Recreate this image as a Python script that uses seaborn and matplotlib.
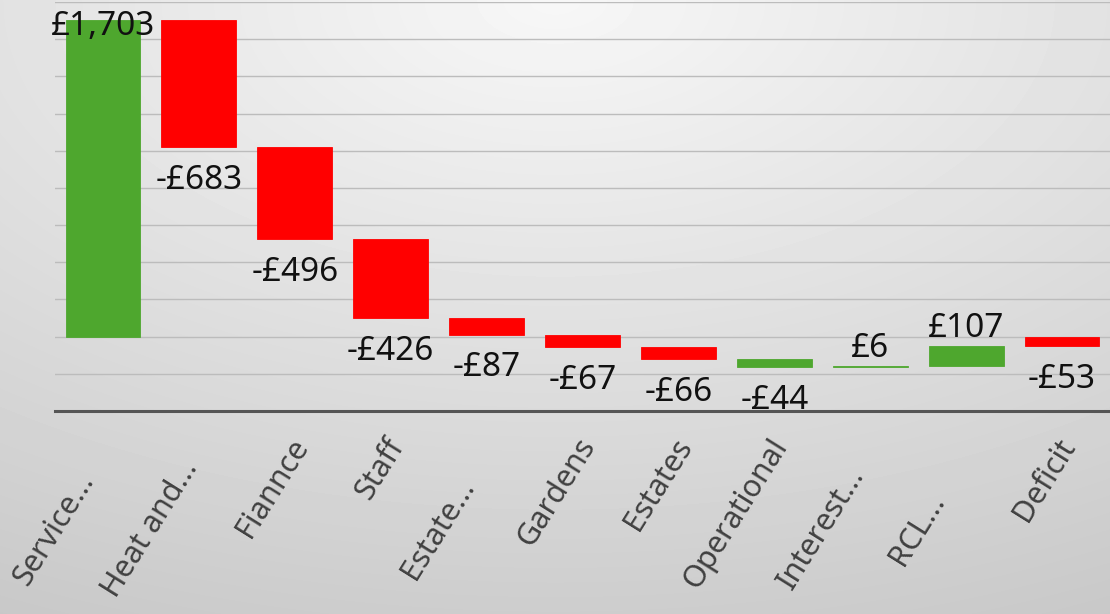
import numpy as np
import pandas as pd
import matplotlib.pyplot as plt
import matplotlib.transforms as mtransforms
import seaborn as sns

# --- data ---
categories = ['Service...', 'Heat and...', 'Fiannce', 'Staff', 'Estate...', 'Gardens',
              'Estates', 'Operational', 'Interest...', 'RCL...', 'Deficit']
changes = [1703, -683, -496, -426, -87, -67, -66, -44, 6, 107, -53]
is_total = [False] * 10 + [True]
value_labels = ['£1,703', '-£683', '-£496', '-£426', '-£87', '-£67', '-£66',
                '-£44', '£6', '£107', '-£53']
bar_colours = ['#4ea72e', '#ff0000', '#ff0000', '#ff0000', '#ff0000', '#ff0000',
               '#ff0000', '#4ea72e', '#4ea72e', '#4ea72e', '#ff0000']

plt.rcParams['font.family'] = ['Noto Sans', 'DejaVu Sans']

# waterfall: each step starts where the running total ended, totals start at 0
df = pd.DataFrame({'cat': categories, 'change': changes, 'total': is_total})
running = df['change'].cumsum().shift(fill_value=0)
df['start'] = np.where(df['total'], 0, running)
df['end'] = df['start'] + df['change']

W, H = 1110, 614
fig = plt.figure(figsize=(W / 100, H / 100), dpi=100)

# grey radial background, light at top centre
bg = fig.add_axes([0, 0, 1, 1])
yy, xx = np.mgrid[0:H, 0:W]
r = np.sqrt(((xx - 0.5 * W) / W) ** 2 + ((yy - 0.0) / H) ** 2)
shade = np.clip(247 - 42 * r, 198, 247) / 255.0
bg.imshow(shade, cmap='gray', vmin=0, vmax=1, extent=[0, 1, 0, 1], aspect='auto')
bg.axis('off')

ax = fig.add_axes([55 / W, 1 - 411 / H, 1 - 55 / W, (411 - 2) / H])
ax.set_facecolor('none')

sns.barplot(x='cat', y='change', data=df, order=categories, bottom=df['start'].values,
            width=0.78, errorbar=None, color='#4ea72e', ax=ax, linewidth=0)
for p, c in zip(ax.patches, bar_colours):
    p.set_facecolor(c)
    p.set_edgecolor(c)
    p.set_linewidth(0.6)

# data labels
for i, row in df.iterrows():
    if i == 0:
        y, dy = row['end'], -11
    elif row['change'] < 0:
        y, dy = min(row['start'], row['end']), -30
    else:
        y, dy = row['end'], 7
    ax.annotate(value_labels[i], (i, y), xytext=(0, dy), textcoords='offset points',
                ha='center', va='baseline', fontsize=24, color='#111111',
                annotation_clip=False)

ax.set_xlim(-0.5, 10.5)
ax.set_ylim(-400, 1800)
ax.set_yticks(range(-400, 1801, 200))
ax.set_yticklabels([])
ax.yaxis.grid(True, color='#bcbcbc', linewidth=1.0)
ax.set_axisbelow(True)
ax.tick_params(axis='both', length=0)
ax.tick_params(axis='x', pad=0)
for s in ax.spines.values():
    s.set_visible(False)
ax.axhline(-400, color='#555555', linewidth=2.2, clip_on=False, zorder=5)

ax.set_xlabel('')
ax.set_ylabel('')
ax.set_xticks(range(len(categories)))
ax.set_xticklabels(categories, rotation=58, rotation_mode='anchor',
                   fontsize=22, color='#404040')

# truncated names sit centred further down, full names hang from the axis
for lab in ax.get_xticklabels():
    if lab.get_text().endswith('...'):
        lab.set_ha('center')
        lab.set_va('baseline')
        dx, dy = -42, 122
    else:
        lab.set_ha('right')
        lab.set_va('top')
        dx, dy = -6, 22
    off = mtransforms.ScaledTranslation(dx / 100, -dy / 100, fig.dpi_scale_trans)
    lab.set_transform(lab.get_transform() + off)

plt.savefig('out.png', dpi=100)
